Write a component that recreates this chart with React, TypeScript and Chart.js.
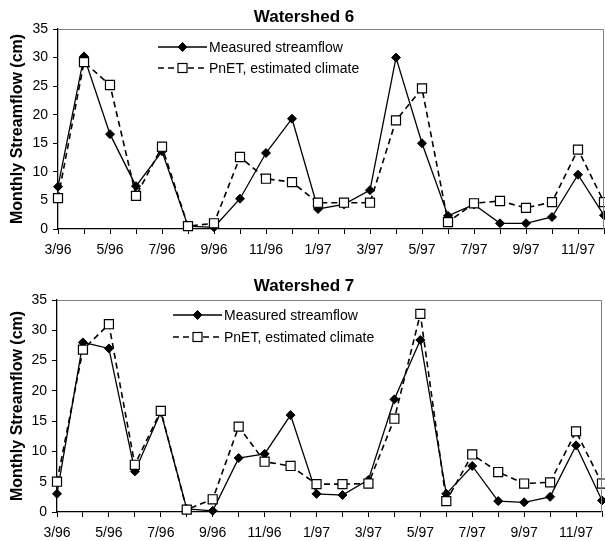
import React, { useEffect, useRef } from 'react';
import { Chart, registerables } from 'chart.js';

Chart.register(...registerables);

// ---- data ----
const months = ['3/96', '4/96', '5/96', '6/96', '7/96', '8/96', '9/96', '10/96', '11/96', '12/96', '1/97', '2/97', '3/97', '4/97', '5/97', '6/97', '7/97', '8/97', '9/97', '10/97', '11/97', '12/97'];

const ws6Measured = [7.4, 30.2, 16.6, 7.5, 13.6, 0.5, 0.3, 5.3, 13.3, 19.3, 3.5, 4.3, 6.8, 30.0, 15.0, 2.3, 4.3, 1.0, 1.0, 2.1, 9.5, 2.4];
const ws6PnET = [5.4, 29.2, 25.2, 5.8, 14.4, 0.5, 1.0, 12.6, 8.8, 8.2, 4.6, 4.6, 4.6, 19.0, 24.6, 1.2, 4.5, 4.9, 3.7, 4.7, 13.9, 4.7];

const ws7Measured = [3.0, 28.0, 27.0, 6.7, 16.5, 0.5, 0.2, 8.9, 9.6, 16.0, 3.0, 2.8, 5.3, 18.6, 28.4, 3.0, 7.6, 1.8, 1.6, 2.5, 11.0, 1.9];
const ws7PnET = [5.0, 26.8, 31.0, 7.8, 16.7, 0.4, 2.1, 14.1, 8.3, 7.6, 4.6, 4.6, 4.7, 15.4, 32.7, 1.8, 9.5, 6.6, 4.7, 4.9, 13.3, 4.7];

const seriesNames = ['Measured streamflow', 'PnET, estimated climate'];
const yAxisTitle = 'Monthly Streamflow (cm)';
const yMin = 0;
const yMax = 35;
const yStep = 5;

const FONT = "'Liberation Sans', Arial, Helvetica, sans-serif";

type PanelProps = {
  title: string;
  measured: number[];
  pnet: number[];
  top: number;
  width: number;
  height: number;
  padTop: number;
  padRight: number;
  yWidth: number;
  xHeight: number;
  titleX: number;
  titleY: number;
  legendX: number;
  legendY: number[];
};

function drawMarker(ctx: CanvasRenderingContext2D, kind: string, x: number, y: number) {
  ctx.save();
  ctx.setLineDash([]);
  ctx.lineWidth = 1;
  ctx.strokeStyle = '#000';
  if (kind === 'diamond') {
    const r = 4.5;
    ctx.beginPath();
    ctx.moveTo(x - r, y);
    ctx.lineTo(x, y - r);
    ctx.lineTo(x + r, y);
    ctx.lineTo(x, y + r);
    ctx.closePath();
    ctx.fillStyle = '#000';
    ctx.fill();
    ctx.stroke();
  } else {
    const s = 4.5;
    ctx.fillStyle = '#fff';
    ctx.fillRect(x - s, y - s, 2 * s, 2 * s);
    ctx.lineWidth = 1.2;
    ctx.strokeRect(x - s, y - s, 2 * s, 2 * s);
  }
  ctx.restore();
}

function Panel(p: PanelProps) {
  const ref = useRef<HTMLCanvasElement | null>(null);

  useEffect(() => {
    if (!ref.current) return;
    const decor = {
      id: 'decor',
      afterDraw(chart: any) {
        const ctx: CanvasRenderingContext2D = chart.ctx;
        const a = chart.chartArea;
        ctx.save();
        // frame top & right
        ctx.strokeStyle = '#808080';
        ctx.lineWidth = 1;
        ctx.beginPath();
        ctx.moveTo(a.left, a.top + 0.5);
        ctx.lineTo(a.right - 0.5, a.top + 0.5);
        ctx.lineTo(a.right - 0.5, a.bottom);
        ctx.stroke();
        // title
        ctx.fillStyle = '#000';
        ctx.font = `bold 17px ${FONT}`;
        ctx.textAlign = 'center';
        ctx.textBaseline = 'middle';
        ctx.fillText(p.title, p.titleX, p.titleY);
        // legend
        const kinds = ['diamond', 'square'];
        chart.data.datasets.forEach((ds: any, i: number) => {
          const y = p.legendY[i];
          const x0 = p.legendX;
          const x1 = x0 + 49;
          ctx.save();
          ctx.strokeStyle = '#000';
          ctx.lineWidth = ds.borderWidth;
          ctx.setLineDash(ds.borderDash || []);
          ctx.beginPath();
          ctx.moveTo(x0, y);
          ctx.lineTo(x1, y);
          ctx.stroke();
          ctx.restore();
          drawMarker(ctx, kinds[i], (x0 + x1) / 2, y);
          ctx.fillStyle = '#000';
          ctx.font = `14px ${FONT}`;
          ctx.textAlign = 'left';
          ctx.textBaseline = 'middle';
          ctx.fillText(ds.label, x1 + 2, y + 1);
        });
        ctx.restore();
      },
    };

    const chart = new Chart(ref.current, {
      type: 'line',
      data: {
        labels: months,
        datasets: [
          {
            label: seriesNames[0],
            data: p.measured,
            borderColor: '#000',
            backgroundColor: '#000',
            borderWidth: 1.3,
            pointStyle: 'rectRot',
            pointRadius: 4.5,
            pointBorderWidth: 1,
            pointBackgroundColor: '#000',
            pointBorderColor: '#000',
            tension: 0,
            order: 1,
            clip: false as any,
          },
          {
            label: seriesNames[1],
            data: p.pnet,
            borderColor: '#000',
            backgroundColor: '#fff',
            borderWidth: 1.6,
            borderDash: [6, 4],
            pointStyle: 'rect',
            pointRadius: 6.4,
            pointBorderWidth: 1.2,
            pointBackgroundColor: '#fff',
            pointBorderColor: '#000',
            tension: 0,
            order: 0,
            clip: false as any,
          },
        ],
      },
      options: {
        responsive: false,
        animation: false,
        events: [],
        layout: { padding: { left: 0, right: p.padRight, top: p.padTop, bottom: 0 } },
        plugins: {
          legend: { display: false },
          title: { display: false },
          tooltip: { enabled: false },
        },
        scales: {
          x: {
            type: 'category',
            offset: false,
            grid: { display: true, drawOnChartArea: false, drawTicks: true, tickLength: 5, color: '#000', lineWidth: 1 },
            border: { display: true, color: '#000', width: 1.3 },
            ticks: {
              autoSkip: false,
              maxRotation: 0,
              minRotation: 0,
              padding: 8,
              color: '#000',
              font: { family: FONT, size: 14 },
              callback: (v: any, i: number) => (i % 2 === 0 ? months[i] : ''),
            },
            afterFit: (s: any) => {
              s.height = p.xHeight;
            },
          },
          y: {
            min: yMin,
            max: yMax,
            grid: { display: true, drawOnChartArea: false, drawTicks: true, tickLength: 5, color: '#000', lineWidth: 1 },
            border: { display: true, color: '#000', width: 1.3 },
            ticks: {
              stepSize: yStep,
              padding: 5,
              color: '#000',
              font: { family: FONT, size: 14 },
            },
            title: {
              display: true,
              text: yAxisTitle,
              color: '#000',
              font: { family: FONT, size: 16, weight: 'bold' },
              padding: { top: 8, bottom: 0 },
            },
            afterFit: (s: any) => {
              s.width = p.yWidth;
            },
          },
        },
      },
      plugins: [decor],
    } as any);
    return () => chart.destroy();
  }, []);

  return (
    <canvas
      ref={ref}
      width={p.width}
      height={p.height}
      style={{ position: 'absolute', left: 0, top: p.top, display: 'block' }}
    />
  );
}

export default function App() {
  return (
    <div
      style={{
        position: 'fixed',
        left: 0,
        top: 0,
        width: 605,
        height: 541,
        overflow: 'hidden',
        background: '#fff',
      }}
    >
      <Panel
        title="Watershed 6"
        measured={ws6Measured}
        pnet={ws6PnET}
        top={0}
        width={612}
        height={270}
        padTop={29}
        padRight={6}
        yWidth={58}
        xHeight={41}
        titleX={304}
        titleY={17}
        legendX={158}
        legendY={[47, 68]}
      />
      <Panel
        title="Watershed 7"
        measured={ws7Measured}
        pnet={ws7PnET}
        top={270}
        width={610}
        height={271}
        padTop={30}
        padRight={7}
        yWidth={57}
        xHeight={29}
        titleX={304}
        titleY={16}
        legendX={173}
        legendY={[45, 67]}
      />
    </div>
  );
}
